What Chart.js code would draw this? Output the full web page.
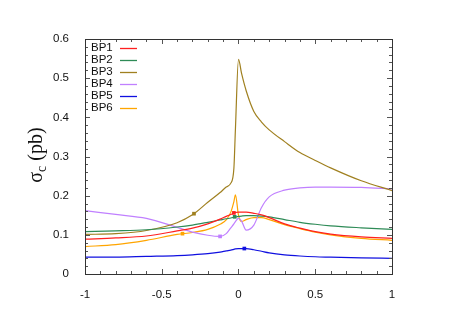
<!DOCTYPE html>
<html>
<head>
    <title>sigma_c vs cos</title>
    <script src="https://cdn.jsdelivr.net/npm/chart.js"></script>
    <style>body { margin: 0; background: #fff; }</style>
</head>
<body>
    <canvas id="chart" width="452" height="320"></canvas>

    <script>
        // x positions shared by all curves (finer near the spike at 0)
        const xs  = [-1, -0.8, -0.6, -0.4, -0.3, -0.2, -0.12, -0.08, -0.05, -0.03, -0.02, 0, 0.02, 0.05, 0.1, 0.15, 0.2, 0.3, 0.4, 0.5, 0.6, 0.8, 1];
        const bp1 = [0.089, 0.092, 0.097, 0.110, 0.117, 0.128, 0.140, 0.147, 0.152, 0.155, 0.157, 0.158, 0.158, 0.158, 0.155, 0.151, 0.144, 0.128, 0.117, 0.108, 0.102, 0.095, 0.091];
        const bp2 = [0.108, 0.110, 0.113, 0.120, 0.125, 0.132, 0.138, 0.141, 0.143, 0.145, 0.146, 0.147, 0.148, 0.149, 0.149, 0.148, 0.146, 0.139, 0.132, 0.127, 0.123, 0.118, 0.114];
        const bp3 = [0.101, 0.103, 0.111, 0.131, 0.151, 0.183, 0.208, 0.222, 0.232, 0.270, 0.370, 0.548, 0.512, 0.468, 0.415, 0.388, 0.368, 0.338, 0.310, 0.290, 0.271, 0.238, 0.213];
        const bp4 = [0.162, 0.152, 0.142, 0.119, 0.107, 0.099, 0.096, 0.103, 0.118, 0.128, 0.134, 0.142, 0.135, 0.112, 0.125, 0.170, 0.197, 0.214, 0.220, 0.222, 0.222, 0.221, 0.217];
        const bp5 = [0.043, 0.043, 0.045, 0.047, 0.049, 0.052, 0.056, 0.059, 0.061, 0.063, 0.064, 0.065, 0.065, 0.065, 0.062, 0.058, 0.054, 0.049, 0.046, 0.044, 0.043, 0.041, 0.040];
        const bp6 = [0.070, 0.075, 0.086, 0.101, 0.106, 0.114, 0.127, 0.138, 0.158, 0.185, 0.202, 0.150, 0.134, 0.139, 0.144, 0.144, 0.139, 0.126, 0.116, 0.107, 0.100, 0.091, 0.086];

        const names  = ['BP1', 'BP2', 'BP3', 'BP4', 'BP5', 'BP6'];
        const colors = ['#ff2020', '#2e8b57', '#a08020', '#c080ff', '#1010e0', '#ffa500'];

        // one square marker per curve
        const markX = [-0.03, -0.025, -0.29, -0.12, 0.038, -0.365];
        const markY = [0.156, 0.146, 0.154, 0.096, 0.065, 0.103];

        const xTicks = [-1, -0.5, 0, 0.5, 1];
        const xLabels = ['-1', '-0.5', '0', '0.5', '1'];
        const yTicks = [0, 0.1, 0.2, 0.3, 0.4, 0.5, 0.6];
        const yLabels = ['0', '0.1', '0.2', '0.3', '0.4', '0.5', '0.6'];

        const series = [bp1, bp2, bp3, bp4, bp5, bp6];
        const datasets = series.map((s, i) => ({
            label: names[i],
            data: xs.map((x, j) => ({ x: x, y: s[j] })),
            borderColor: colors[i],
            borderWidth: 1.2,
            pointRadius: 0,
            cubicInterpolationMode: 'monotone',
            fill: false
        }));
        names.forEach((n, i) => datasets.push({
            label: '',
            data: [{ x: markX[i], y: markY[i] }],
            showLine: false,
            pointStyle: 'rect',
            pointRadius: 2.6,
            pointBackgroundColor: colors[i],
            pointBorderWidth: 0
        }));

        const font = { family: 'Liberation Sans', size: 11.5 };

        const frame = {
            id: 'frame',
            afterDraw(chart) {
                const c = chart.ctx, a = chart.chartArea;
                const sx = chart.scales.x, sy = chart.scales.y;
                c.save();
                c.strokeStyle = '#555';
                c.lineWidth = 1;
                c.beginPath();
                for (let v = -1; v <= 1.0001; v += 0.1) {
                    const px = Math.round(sx.getPixelForValue(v)) + 0.5;
                    const len = Math.abs(v * 2 - Math.round(v * 2)) < 0.01 ? 5 : 3;
                    c.moveTo(px, a.bottom); c.lineTo(px, a.bottom - len);
                    c.moveTo(px, a.top); c.lineTo(px, a.top + len);
                }
                for (let v = 0; v <= 0.6001; v += 0.02) {
                    const py = Math.round(sy.getPixelForValue(v)) + 0.5;
                    const len = Math.abs(v * 10 - Math.round(v * 10)) < 0.01 ? 5 : 3;
                    c.moveTo(a.left, py); c.lineTo(a.left + len, py);
                    c.moveTo(a.right, py); c.lineTo(a.right - len, py);
                }
                c.stroke();
                c.strokeStyle = '#333';
                c.strokeRect(Math.round(a.left) + 0.5, Math.round(a.top) + 0.5,
                             Math.round(a.right - a.left), Math.round(a.bottom - a.top));

                // legend inside the plot, top left
                c.font = font.size + 'px ' + font.family;
                c.textBaseline = 'middle';
                c.textAlign = 'left';
                names.forEach((n, i) => {
                    const y = 48 + i * 11.9;
                    c.fillStyle = '#111';
                    c.fillText(n, 91, y);
                    c.strokeStyle = colors[i];
                    c.lineWidth = 1.3;
                    c.beginPath();
                    c.moveTo(120, Math.round(y) + 0.5);
                    c.lineTo(137, Math.round(y) + 0.5);
                    c.stroke();
                });

                // y axis title: sigma_c (pb)
                c.translate(37, 155);
                c.rotate(-Math.PI / 2);
                c.fillStyle = '#111';
                c.textBaseline = 'middle';
                const big = '20px "Liberation Serif"', small = '14px "Liberation Serif"';
                c.font = big;
                const w1 = c.measureText('\u03c3').width;
                const w3 = c.measureText(' (pb)').width;
                c.font = small;
                const w2 = c.measureText('c').width;
                let x0 = -(w1 + w2 + w3) / 2;
                c.font = big;
                c.fillText('\u03c3', x0, 0);
                c.font = small;
                c.fillText('c', x0 + w1, 5);
                c.font = big;
                c.fillText(' (pb)', x0 + w1 + w2, 0);
                c.restore();
            }
        };

        const ctx = document.getElementById('chart').getContext('2d');
        const chart = new Chart(ctx, {
            type: 'line',
            data: { datasets: datasets },
            options: {
                responsive: false,
                animation: false,
                devicePixelRatio: 1,
                layout: { padding: { left: 0, top: 39, right: 60, bottom: 0 } },
                plugins: { legend: { display: false }, tooltip: { enabled: false } },
                scales: {
                    x: {
                        type: 'linear', min: -1, max: 1,
                        grid: { display: false },
                        border: { display: false },
                        afterBuildTicks: s => { s.ticks = xTicks.map(v => ({ value: v })); },
                        afterFit: s => { s.height = 46; },
                        ticks: { font: font, color: '#111', padding: 6, maxRotation: 0,
                                 callback: (v, i) => xLabels[i] }
                    },
                    y: {
                        min: 0, max: 0.6,
                        grid: { display: false },
                        border: { display: false },
                        afterBuildTicks: s => { s.ticks = yTicks.map(v => ({ value: v })); },
                        afterFit: s => { s.width = 85; },
                        ticks: { font: font, color: '#111', padding: 8,
                                 callback: (v, i) => yLabels[i] }
                    }
                }
            },
            plugins: [frame]
        });
    </script>
</body>
</html>
